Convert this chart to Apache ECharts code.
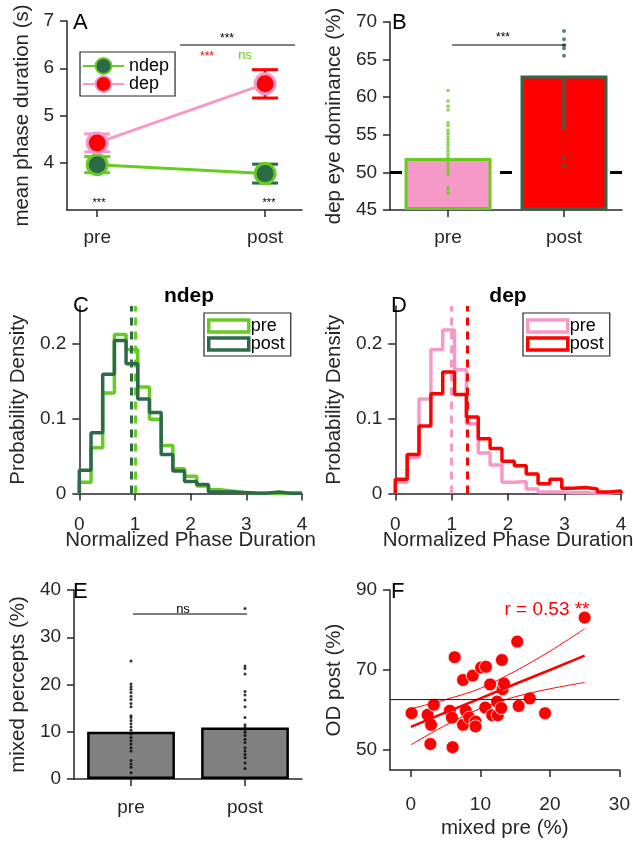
<!DOCTYPE html>
<html><head><meta charset="utf-8">
<script src="https://cdn.jsdelivr.net/npm/echarts@6/dist/echarts.min.js"></script>
<style>
html,body{margin:0;padding:0;background:#fff;}
#wrap{position:relative;width:633px;height:844px;overflow:hidden;}
.p{position:absolute;}
</style></head><body><div id="wrap">
<div class="p" id="pA" style="left:0;top:0;width:316px;height:280px"></div>
<div class="p" id="pB" style="left:316px;top:0;width:317px;height:280px"></div>
<div class="p" id="pC" style="left:0;top:280px;width:330px;height:285px"></div>
<div class="p" id="pD" style="left:316px;top:280px;width:317px;height:285px"></div>
<div class="p" id="pE" style="left:0;top:565px;width:316px;height:279px"></div>
<div class="p" id="pF" style="left:316px;top:565px;width:317px;height:279px"></div>
</div>
<script>
// ---------- data ----------
const phaseCats = ['pre', 'post'];
const phaseX = [1, 2];
const ndepMean = [3.96, 3.77];
const ndepErr = [0.17, 0.20];
const depMean = [4.42, 5.67];
const depErr = [0.19, 0.30];

const domCats = ['pre', 'post'];
const domMean = [51.9, 62.9];
const domRef = 50;
const domPre = [60.9, 59.5, 58.8, 58.3, 56.6, 56.2, 55.6, 55.2, 54.8, 54.4, 54.0, 53.6, 53.2, 52.8, 52.4, 52.0, 51.6, 51.2, 50.8, 50.4, 50.0, 49.7, 48.0, 47.7, 47.2];
const domPost = [68.8, 67.7, 66.9, 66.5, 65.5, 62.3, 61.9, 61.5, 61.0, 60.6, 60.2, 59.8, 59.4, 59.0, 58.6, 58.2, 57.8, 57.4, 57.0, 56.6, 56.2, 55.9, 51.9, 50.9];

const binEdges = [0, 0.21, 0.42, 0.63, 0.84, 1.05, 1.26, 1.47, 1.68, 1.89, 2.11, 2.32, 2.53, 2.74, 2.95, 3.16, 3.37, 3.58, 3.79, 4.0];
const ndepPre  = [0.015, 0.061, 0.134, 0.212, 0.192, 0.142, 0.099, 0.064, 0.033, 0.023, 0.010, 0.005, 0.0035, 0.0015, 0.0008, 0.0005, 0.0005, 0.0003, 0.0003];
const ndepPost = [0.031, 0.081, 0.159, 0.204, 0.173, 0.126, 0.108, 0.052, 0.030, 0.016, 0.012, 0.002, 0.002, 0.0015, 0.0008, 0.0005, 0.002, 0.0005, 0.0005];
const ndepMeans = [1.00, 0.935];
const depPre  = [0.015, 0.048, 0.126, 0.192, 0.218, 0.165, 0.093, 0.054, 0.038, 0.015, 0.016, 0.006, 0.002, 0.002, 0.001, 0.001, 0.0005, 0.0005, 0.002];
const depPost = [0.019, 0.052, 0.090, 0.133, 0.162, 0.132, 0.102, 0.073, 0.060, 0.043, 0.037, 0.026, 0.013, 0.019, 0.007, 0.008, 0.006, 0.002, 0.0035];
const depMeans = [1.00, 1.27];

const mixCats = ['pre', 'post'];
const mixMean = [10.0, 10.9];
const mixPre = [25.0, 20.1, 19.5, 19.0, 18.3, 17.5, 16.8, 16.0, 15.3, 13.4, 13.0, 12.4, 11.7, 11.0, 10.3, 9.5, 8.8, 8.1, 7.4, 6.6, 5.9, 3.9, 3.2, 2.5, 1.3];
const mixPost = [36.1, 23.9, 23.4, 22.2, 18.5, 17.8, 16.7, 15.3, 13.0, 11.5, 11.0, 10.5, 9.9, 9.2, 8.4, 7.7, 6.6, 5.9, 5.2, 4.5, 3.4, 2.2];

const corrX = [0.1, 2.4, 2.8, 2.9, 3.3, 5.6, 5.9, 6.0, 6.3, 7.5, 7.5, 7.9, 8.4, 8.9, 9.3, 9.3, 10.1, 10.8, 10.7, 11.4, 11.7, 12.4, 12.5, 13.0, 13.1, 13.2, 13.4, 15.3, 15.5, 17.1, 19.3, 25.0];
const corrY = [59.2, 58.8, 51.5, 56.3, 61.3, 59.8, 58.1, 50.7, 73.2, 67.5, 56.3, 59.8, 58.1, 68.6, 57.1, 55.9, 70.6, 70.8, 60.6, 66.4, 58.7, 62.1, 58.7, 60.5, 72.5, 65.2, 66.6, 77.1, 61.0, 62.9, 59.2, 83.1];
const fitX  = [0, 5, 10, 15, 20, 25];
const fitY  = [55.8, 59.4, 62.9, 66.5, 70.0, 73.6];
const fitUp = [60.3, 62.6, 65.4, 69.7, 74.7, 80.3];
const fitLo = [51.3, 56.2, 60.4, 63.3, 65.3, 66.9];
const odPostMean = 62.6;
const corrText = 'r = 0.53 **';

// ---------- style ----------
const FONT = "'Liberation Sans', Arial, Helvetica, sans-serif";
const AX = '#262626';
const G1 = '#66cc22', DG = '#2c6a4a', PINK = '#f799c8', RED = '#ff0000';

function axis(o) {
  const base = {
    axisLine: { show: true, onZero: false, lineStyle: { color: AX, width: 1.5 } },
    axisTick: { show: true, inside: false, length: 7, lineStyle: { color: AX, width: 1.5 } },
    axisLabel: { color: AX, fontSize: 19, fontFamily: FONT, margin: 13 },
    splitLine: { show: false },
    nameLocation: 'middle',
    nameTextStyle: { color: AX, fontSize: 20.5, fontFamily: FONT }
  };
  const r = Object.assign({}, base, o);
  ['axisLine', 'axisTick', 'axisLabel', 'nameTextStyle'].forEach(k => {
    if (o[k]) r[k] = Object.assign({}, base[k], o[k]);
  });
  return r;
}
function txt(text, x, y, size, color, opts) {
  const al = (opts && opts.align) || 'center';
  return {
    type: 'text', z: 100,
    style: { text: text, x: x, y: y, fill: color || '#000', font: (opts && opts.bold ? 'bold ' : '') + size + 'px ' + FONT,
      textAlign: al, textVerticalAlign: 'middle', align: al, verticalAlign: 'middle' }
  };
}
function hline(x1, x2, y, color) {
  return { type: 'line', z: 100, shape: { x1: x1, y1: y, x2: x2, y2: y }, style: { stroke: color || '#000', lineWidth: 1 } };
}
function errRender(colors) {
  return function (params, api) {
    const x = api.value(0), y = api.value(1), e = api.value(2), i = api.value(3);
    const top = api.coord([x, y + e]), bot = api.coord([x, y - e]);
    const hw = 13, st = { stroke: colors[i], lineWidth: 3 };
    return { type: 'group', children: [
      { type: 'line', shape: { x1: top[0], y1: top[1], x2: bot[0], y2: bot[1] }, style: st },
      { type: 'line', shape: { x1: top[0] - hw, y1: top[1], x2: top[0] + hw, y2: top[1] }, style: st },
      { type: 'line', shape: { x1: bot[0] - hw, y1: bot[1], x2: bot[0] + hw, y2: bot[1] }, style: st }
    ] };
  };
}
function stairs(edges, vals) {
  const d = [[edges[0], 0]];
  vals.forEach((v, i) => d.push([edges[i], v]));
  d.push([edges[edges.length - 1], vals[vals.length - 1]]);
  d.push([edges[edges.length - 1], 0]);
  return d;
}
function init(id) { return echarts.init(document.getElementById(id), null, { renderer: 'canvas' }); }

// ---------- A ----------
init('pA').setOption({
  animation: false,
  grid: { left: 67, top: 21, width: 235, height: 189 },
  xAxis: axis({ type: 'value', min: 0.82, max: 2.22,
    axisLabel: { customValues: phaseX, margin: 18, formatter: v => phaseCats[Math.round(v) - 1] },
    axisTick: { customValues: phaseX } }),
  yAxis: axis({ type: 'value', min: 3, max: 7, name: 'mean phase duration (s)', nameGap: 34,
    axisLabel: { customValues: [4, 5, 6, 7] }, axisTick: { customValues: [4, 5, 6, 7] } }),
  legend: { left: 80, top: 52, orient: 'vertical', backgroundColor: '#fff', borderColor: AX, borderWidth: 1.2,
    padding: [5, 6, 3, 2], itemWidth: 41, itemHeight: 20, itemGap: 0, data: ['ndep', 'dep'],
    textStyle: { fontSize: 18, fontFamily: FONT, color: '#000' } },
  series: [
    { type: 'custom', z: 1, renderItem: errRender([G1, DG]), encode: { x: 0, y: 1 },
      data: phaseX.map((x, i) => [x, ndepMean[i], ndepErr[i], i]) },
    { type: 'custom', z: 1, renderItem: errRender([PINK, RED]), encode: { x: 0, y: 1 },
      data: phaseX.map((x, i) => [x, depMean[i], depErr[i], i]) },
    { type: 'line', name: 'ndep', z: 3, data: phaseX.map((x, i) => [x, ndepMean[i]]),
      lineStyle: { color: G1, width: 3 }, symbol: 'circle', symbolSize: 20,
      itemStyle: { color: DG, borderColor: G1, borderWidth: 3 } },
    { type: 'line', name: 'dep', z: 3, data: phaseX.map((x, i) => [x, depMean[i]]),
      lineStyle: { color: PINK, width: 3 }, symbol: 'circle', symbolSize: 20,
      itemStyle: { color: RED, borderColor: PINK, borderWidth: 3 } }
  ],
  graphic: [
    txt('A', 73, 23, 22, '#000', { align: 'left' }),
    hline(180, 295, 45),
    txt('***', 227, 39, 12),
    txt('***', 207, 57, 12, RED),
    txt('ns', 245, 55, 13, G1),
    txt('***', 99, 203, 11),
    txt('***', 269, 203, 11)
  ]
});

// ---------- B ----------
init('pB').setOption({
  animation: false,
  grid: { left: 67, top: 22, width: 239, height: 188 },
  xAxis: [axis({ type: 'category', data: domCats, axisTick: { alignWithLabel: true }, axisLabel: { margin: 18 } }),
          { type: 'value', min: 0, max: 1, show: false }],
  yAxis: axis({ type: 'value', min: 45, max: 70, interval: 5, name: 'dep eye dominance (%)', nameGap: 38 }),
  series: [
    { type: 'line', xAxisIndex: 1, z: 1, symbol: 'none', data: [[0, domRef], [1, domRef]],
      lineStyle: { color: '#000', width: 3, type: [12, 10] } },
    { type: 'bar', stack: 'b', z: 2, barWidth: '75%', itemStyle: { color: 'rgba(0,0,0,0)' },
      data: domMean.map(() => 45), silent: true },
    { type: 'bar', stack: 'b', z: 2, barWidth: '75%',
      data: [
        { value: domMean[0] - 45, itemStyle: { color: PINK, borderColor: G1, borderWidth: 3 } },
        { value: domMean[1] - 45, itemStyle: { color: RED, borderColor: DG, borderWidth: 3 } }
      ] },
    { type: 'scatter', z: 3, symbolSize: 3.5, itemStyle: { color: G1 }, data: domPre.map(v => ['pre', v]) },
    { type: 'scatter', z: 3, symbolSize: 4, itemStyle: { color: DG }, data: domPost.map(v => ['post', v]) }
  ],
  graphic: [
    txt('B', 76, 23, 22, '#000', { align: 'left' }),
    hline(136, 250, 45),
    txt('***', 187, 38, 12)
  ]
});

// ---------- C & D ----------
function histOption(letter, title, pre, post, means, cPre, cPost) {
  return {
    animation: false,
    grid: { left: 67, top: 26, width: 235, height: 187.5 },
    xAxis: axis({ type: 'value', min: 0, max: 4, interval: 1, name: 'Normalized Phase Duration', nameGap: 36,
      nameMoveOverlap: false, axisLabel: { margin: 22 } }),
    yAxis: axis({ type: 'value', min: 0, max: 0.25, name: 'Probability Density', nameGap: 47,
      axisLabel: { customValues: [0, 0.1, 0.2] }, axisTick: { customValues: [0, 0.1, 0.2] } }),
    legend: { left: 204, top: 33, orient: 'vertical', backgroundColor: '#fff', borderColor: AX, borderWidth: 1.2,
      padding: [4, 6, 3, 3], itemWidth: 40, itemHeight: 12, itemGap: 0,
      textStyle: { fontSize: 18, fontFamily: FONT, color: '#000', padding: [0, 0, 0, -3] },
      data: [
        { name: 'pre', icon: 'rect', itemStyle: { color: 'rgba(0,0,0,0)', borderColor: cPre, borderWidth: 3.5 } },
        { name: 'post', icon: 'rect', itemStyle: { color: 'rgba(0,0,0,0)', borderColor: cPost, borderWidth: 3.5 } }
      ] },
    series: [
      { type: 'line', name: 'pre', step: 'end', symbol: 'none', z: 2, data: stairs(binEdges, pre),
        lineStyle: { color: cPre, width: 3.5 }, itemStyle: { color: cPre },
        markLine: { silent: true, symbol: 'none', label: { show: false }, z: 2,
          lineStyle: { color: cPre, width: 3, type: [8, 6] }, data: [{ xAxis: means[0] }] } },
      { type: 'line', name: 'post', step: 'end', symbol: 'none', z: 3, data: stairs(binEdges, post),
        lineStyle: { color: cPost, width: 3.5 }, itemStyle: { color: cPost },
        markLine: { silent: true, symbol: 'none', label: { show: false }, z: 3,
          lineStyle: { color: cPost, width: 3, type: [8, 6] }, data: [{ xAxis: means[1] }] } }
    ],
    graphic: [
      txt(letter, 73, 26, 22, '#000', { align: 'left' }),
      txt(title, 189, 16, 21, '#000', { bold: true })
    ]
  };
}
init('pC').setOption(histOption('C', 'ndep', ndepPre, ndepPost, ndepMeans, G1, DG));
const dOpt = histOption('D', 'dep', depPre, depPost, depMeans, PINK, RED);
dOpt.grid.left = 69;
dOpt.grid.width = 236;
dOpt.yAxis.nameGap = 46;
dOpt.legend.left = 207;
dOpt.graphic[0].style.x = 75;
dOpt.graphic[1].style.x = 192;
init('pD').setOption(dOpt);

// ---------- E ----------
init('pE').setOption({
  animation: false,
  grid: { left: 67, top: 25, width: 235, height: 189 },
  xAxis: axis({ type: 'category', data: mixCats, axisTick: { alignWithLabel: true }, axisLabel: { margin: 19 } }),
  yAxis: axis({ type: 'value', min: 0, max: 40, interval: 10, name: 'mixed percepts (%)', nameGap: 41 }),
  series: [
    { type: 'bar', barWidth: '77%', z: 2, data: mixMean,
      itemStyle: { color: '#808080', borderColor: '#000', borderWidth: 2.5 } },
    { type: 'scatter', z: 3, symbolSize: 3, itemStyle: { color: '#000' }, data: mixPre.map(v => ['pre', v]) },
    { type: 'scatter', z: 3, symbolSize: 3, itemStyle: { color: '#000' }, data: mixPost.map(v => ['post', v]) }
  ],
  graphic: [
    txt('E', 73, 27, 22, '#000', { align: 'left' }),
    hline(133, 247, 49),
    txt('ns', 183, 44, 13)
  ]
});

// ---------- F ----------
init('pF').setOption({
  animation: false,
  grid: { left: 67, top: 25, width: 239, height: 189 },
  xAxis: axis({ type: 'value', min: -3, max: 30, name: 'mixed pre (%)', nameGap: 48, nameMoveOverlap: false,
    axisLabel: { customValues: [0, 10, 20, 30], margin: 25 }, axisTick: { customValues: [0, 10, 20, 30] } }),
  yAxis: axis({ type: 'value', min: 45, max: 90, name: 'OD post (%)', nameGap: 44,
    axisLabel: { customValues: [50, 70, 90] }, axisTick: { customValues: [50, 70, 90] } }),
  series: [
    { type: 'scatter', z: 2, symbolSize: 13, data: corrX.map((x, i) => [x, corrY[i]]),
      itemStyle: { color: RED, borderColor: '#fff', borderWidth: 0.8, opacity: 1 } },
    { type: 'line', z: 3, symbol: 'none', data: fitX.map((x, i) => [x, fitY[i]]), lineStyle: { color: RED, width: 2.5 } },
    { type: 'line', z: 3, symbol: 'none', smooth: 0.3, data: fitX.map((x, i) => [x, fitUp[i]]), lineStyle: { color: RED, width: 1 } },
    { type: 'line', z: 3, symbol: 'none', smooth: 0.3, data: fitX.map((x, i) => [x, fitLo[i]]), lineStyle: { color: RED, width: 1 } },
    { type: 'line', z: 4, symbol: 'none', data: [[-3, odPostMean], [30, odPostMean]], lineStyle: { color: '#111', width: 1 } }
  ],
  graphic: [
    txt('F', 75, 27, 22, '#000', { align: 'left' }),
    txt(corrText, 231, 45, 19, RED)
  ]
});
</script>
</body></html>
